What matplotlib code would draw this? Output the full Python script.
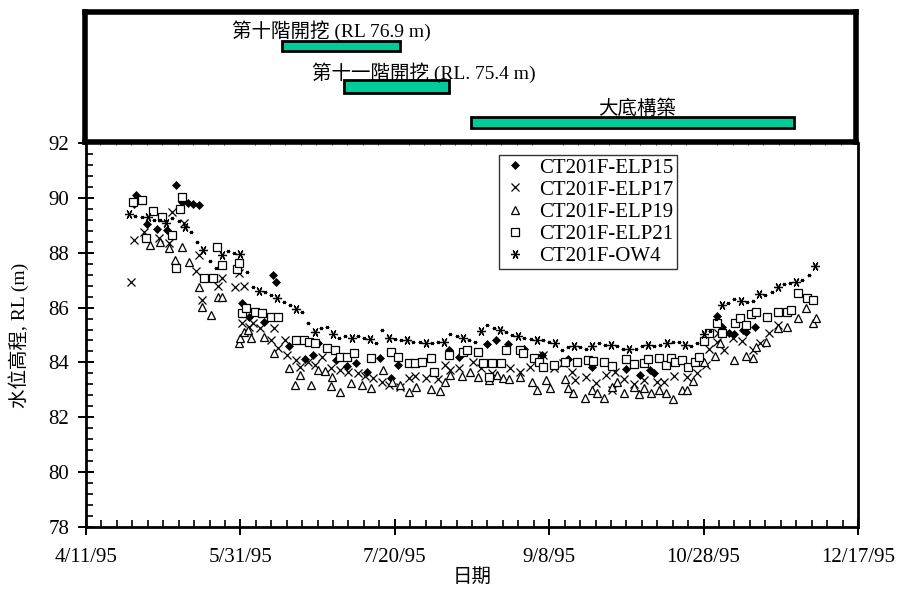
import matplotlib
matplotlib.use("Agg")
import matplotlib.pyplot as plt
import matplotlib.dates as mdates
from matplotlib.ticker import FixedLocator, MultipleLocator
import numpy as np
import pandas as pd

plt.rcParams['font.family'] = ['Liberation Serif', 'Noto Sans CJK TC']

# ---------------------------------------------------------------- data
START = pd.Timestamp('1995-04-11')
END = pd.Timestamp('1995-12-17')

tick_labels = ['4/11/95', '5/31/95', '7/20/95', '9/8/95', '10/28/95', '12/17/95']
y_ticks = [78, 80, 82, 84, 86, 88, 90, 92]

# days after 4/11/95, groundwater level RL (m)
elp15_day = [15.4, 16.3, 19.7, 23.0, 26.3, 29.2, 31.1, 33.0, 34.7, 36.5, 50.4, 52.9,
             57.6, 60.4, 61.4, 65.8, 70.8, 73.4, 75.2, 81.0, 84.6, 87.5, 91.0, 95.2,
             98.7, 101.1, 117.6, 120.8, 129.7, 132.8, 136.8, 142.0, 147.7, 155.1,
             156.2, 163.8, 174.9, 179.5, 182.6, 183.9, 204.5, 206.0, 208.3, 210.0,
             212.7, 213.7, 216.5]
elp15_rl = [89.78, 90.10, 89.05, 88.86, 88.83, 90.48, 89.85, 89.81, 89.78, 89.74,
            86.15, 85.66, 85.49, 87.19, 86.93, 84.60, 84.12, 84.27, 84.70, 84.09,
            83.87, 83.97, 83.66, 84.16, 83.42, 83.91, 84.45, 84.19, 84.66, 84.82,
            84.66, 84.48, 84.27, 84.03, 84.11, 83.82, 83.75, 83.54, 83.72, 83.60,
            85.70, 85.28, 85.08, 85.04, 85.18, 85.10, 85.30]

elp17_day = [14.7, 15.4, 18.9, 23.5, 27.0, 28.0, 31.7, 35.5, 36.5, 37.7, 42.9, 44.1,
             48.2, 49.4, 50.5, 51.1, 52.9, 54.1, 56.5, 60.0, 61.0, 62.1, 64.6, 65.2,
             68.1, 69.3, 71.9, 74.1, 76.3, 79.5, 82.2, 84.9, 88.1, 90.4, 92.8, 95.8,
             98.0, 101.6, 104.5, 106.7, 110.0, 113.9, 116.3, 118.0, 120.8, 125.2,
             128.0, 131.5, 137.4, 140.4, 143.9, 148.0, 151.5, 154.4, 157.4, 158.4,
             162.0, 165.0, 168.4, 170.3, 171.4, 174.1, 177.4, 180.6, 185.0, 187.1,
             190.4, 194.7, 198.0, 200.7, 201.9, 204.2, 204.8, 206.7, 209.5, 212.4,
             215.9, 218.3, 221.3, 224.2]
elp17_rl = [86.94, 88.46, 88.77, 88.53, 88.34, 89.50, 89.07, 87.34, 87.92, 86.28,
            86.79, 87.09, 86.76, 87.25, 85.43, 86.79, 85.30, 85.43, 85.24, 84.82,
            85.24, 84.51, 84.82, 84.27, 84.09, 83.85, 84.00, 83.90, 84.21, 83.80,
            83.72, 83.65, 83.60, 83.50, 83.42, 83.30, 83.18, 83.12, 83.42, 83.50,
            83.45, 83.38, 83.91, 83.72, 83.79, 84.03, 83.79, 83.60, 83.79, 83.66,
            83.85, 84.27, 83.79, 83.97, 83.66, 83.36, 83.48, 83.26, 83.54, 83.00,
            83.66, 83.40, 83.20, 83.35, 83.30, 83.30, 83.50, 83.48, 83.60, 83.91,
            84.48, 84.76, 85.08, 84.45, 84.88, 84.79, 84.45, 84.70, 85.06, 85.37]

elp19_day = [20.6, 24.1, 27.0, 28.9, 31.1, 33.5, 36.5, 37.7, 40.6, 42.9, 44.1, 49.4,
             50.0, 51.1, 52.3, 53.4, 57.6, 61.0, 65.8, 67.6, 69.3, 72.8, 75.2, 77.4,
             79.3, 79.8, 82.2, 85.7, 89.3, 92.2, 96.3, 99.1, 101.6, 104.5, 106.9,
             111.6, 114.5, 116.3, 118.0, 121.6, 124.5, 126.8, 130.4, 133.2, 135.0,
             137.1, 140.4, 144.4, 146.2, 149.1, 150.2, 155.0, 156.2, 157.8, 161.5,
             163.8, 165.4, 167.9, 170.3, 171.9, 174.3, 177.4, 179.0, 180.8, 183.1,
             185.5, 187.8, 190.2, 193.1, 194.7, 196.6, 200.2, 203.7, 205.4, 210.0,
             213.7, 215.9, 217.1, 220.1, 224.2, 227.1, 230.6, 233.0, 235.3, 236.5]
elp19_rl = [88.28, 88.40, 88.16, 87.73, 88.22, 87.67, 86.76, 86.03, 85.73, 86.37,
            86.40, 84.70, 84.90, 85.12, 85.18, 84.88, 84.94, 84.33, 83.79, 83.18,
            83.54, 83.18, 83.72, 83.70, 83.14, 83.48, 82.93, 83.24, 83.18, 83.06,
            83.72, 83.30, 83.18, 82.93, 83.09, 83.02, 82.97, 83.30, 83.54, 83.50,
            83.66, 83.48, 83.36, 83.54, 83.42, 83.40, 83.46, 83.30, 83.00, 83.36,
            83.06, 83.38, 83.06, 82.90, 82.69, 83.00, 82.87, 82.69, 83.12, 83.30,
            82.90, 83.12, 82.85, 83.06, 82.87, 83.00, 82.87, 82.65, 83.00, 83.00,
            83.33, 84.03, 84.24, 84.70, 84.09, 84.24, 84.15, 84.58, 84.76, 85.24,
            85.30, 85.61, 85.97, 85.43, 85.61]

elp21_day = [15.1, 18.2, 19.4, 21.8, 24.7, 27.7, 29.2, 30.4, 31.1, 38.2, 41.1, 42.3,
             44.1, 48.8, 49.4, 50.5, 51.7, 54.6, 57.0, 60.0, 62.1, 68.1, 70.5, 72.2,
             74.1, 78.1, 80.5, 82.2, 84.4, 86.9, 92.2, 98.7, 101.1, 104.5, 106.7,
             108.7, 111.6, 112.7, 117.5, 122.1, 123.3, 126.8, 128.5, 130.4, 131.5,
             134.4, 136.1, 140.4, 141.5, 145.1, 146.8, 148.0, 151.5, 155.0, 159.1,
             162.6, 164.3, 167.9, 170.3, 174.9, 177.4, 180.8, 182.0, 185.5, 187.8,
             189.6, 190.7, 193.1, 194.9, 197.2, 198.4, 200.2, 201.9, 204.2, 206.0,
             210.1, 211.9, 213.7, 215.4, 217.1, 220.6, 224.2, 227.1, 228.3, 230.6,
             233.5, 235.4]
elp21_rl = [89.86, 89.94, 88.53, 89.53, 89.29, 88.65, 87.43, 89.58, 90.04, 87.07,
            87.07, 88.22, 87.55, 87.39, 87.61, 85.79, 85.97, 85.85, 85.79, 85.67,
            85.65, 84.82, 84.82, 84.76, 84.70, 84.51, 84.45, 84.21, 84.20, 84.33,
            84.15, 84.39, 84.21, 83.97, 83.97, 84.03, 84.15, 83.66, 84.27, 84.39,
            84.45, 84.39, 83.97, 83.46, 83.97, 83.97, 84.45, 84.45, 84.33, 84.15,
            84.03, 83.85, 83.91, 84.03, 84.03, 84.09, 84.07, 84.00, 83.87, 84.11,
            83.94, 83.97, 84.11, 84.15, 83.91, 84.15, 84.03, 84.09, 83.85, 84.00,
            84.21, 84.78, 85.08, 85.43, 85.06, 85.45, 85.61, 85.37, 85.77, 85.85,
            85.67, 85.85, 85.85, 85.91, 86.54, 86.34, 86.28]

# observation well OW4, read every second day from 4/25/95
ow4_first = '1995-04-25'
ow4_rl = [89.40, 89.35, 89.30, 89.30, 89.20, 89.20, 89.10, 89.25, 89.15, 88.95, 88.75, 88.40,
          88.10, 87.70, 87.45, 87.90, 88.05, 88.00, 87.95, 87.30, 86.75, 86.60, 86.55,
          86.45, 86.35, 86.20, 86.10, 85.95, 85.85, 85.45, 85.10, 85.25, 85.30, 85.05,
          84.90, 84.95, 84.90, 84.95, 84.90, 84.85, 84.70, 85.20, 84.90, 84.85, 84.80,
          84.80, 84.75, 84.75, 84.70, 84.70, 84.75, 84.75, 85.05, 84.95, 84.90, 84.80,
          84.75, 85.15, 85.35, 85.25, 85.20, 85.10, 85.00, 84.95, 84.90, 84.85, 84.80,
          84.80, 84.75, 84.70, 84.45, 84.55, 84.60, 84.55, 84.50, 84.60, 84.70, 84.65,
          84.65, 84.60, 84.50, 84.50, 84.50, 84.60, 84.65, 84.60, 84.65, 84.70, 84.75,
          84.75, 84.65, 84.60, 84.70, 85.05, 85.15, 85.60, 86.10, 86.15, 86.30, 86.25,
          86.20, 86.25, 86.50, 86.45, 86.55, 86.75, 86.85, 86.90, 86.95, 87.00, 87.20, 87.50]

# construction stages
stage_labels = ['第十階開挖 (RL 76.9 m)', '第十一階開挖 (RL. 75.4 m)', '大底構築']
stage_start = ['1995-06-14', '1995-07-04', '1995-08-14']
stage_end = ['1995-07-22', '1995-08-07', '1995-11-27']
stage_label_at = ['1995-06-30', '1995-07-30', '1995-10-07']


def days_to_dates(days):
    return START + pd.to_timedelta(np.asarray(days, dtype=float), unit='D')


# ---------------------------------------------------------------- figure
fig = plt.figure(figsize=(8.99, 5.99), dpi=100)
ax = fig.add_axes([86 / 899, 72 / 599, 772 / 899, 384 / 599])
top = fig.add_axes([85 / 899, 457 / 599, 771 / 899, 130 / 599], sharex=ax)

mk = dict(ls='none', color='black')
ax.plot(days_to_dates(elp15_day), elp15_rl, marker='D', ms=4.3, mfc='black',
        mew=0.5, label='CT201F-ELP15', **mk)
ax.plot(days_to_dates(elp17_day), elp17_rl, marker='x', ms=5.5, mew=0.9,
        label='CT201F-ELP17', **mk)
ax.plot(days_to_dates(elp19_day), elp19_rl, marker='^', ms=5.3, mfc='white',
        mew=0.9, label='CT201F-ELP19', **mk)
ax.plot(days_to_dates(elp21_day), elp21_rl, marker='s', ms=6, mfc='white',
        mew=0.9, label='CT201F-ELP21', **mk)

ow4_dates = pd.date_range(ow4_first, periods=len(ow4_rl), freq='2D')
asterisk = (6, 2, 90)
ax.plot(ow4_dates, ow4_rl, marker=asterisk, ms=2.6, mew=0.6, **mk)
ax.plot(ow4_dates, ow4_rl, marker=asterisk, ms=6.5, mew=0.9, markevery=3,
        label='CT201F-OW4', **mk)

tick_dates = pd.to_datetime(tick_labels, format='%m/%d/%y')
ax.set_xlim(START, END)
ax.xaxis.set_major_locator(FixedLocator(mdates.date2num(tick_dates)))
ax.set_xticklabels(tick_labels)
ax.xaxis.set_minor_locator(FixedLocator(mdates.date2num(START) + np.arange(0, 251, 5)))

ax.set_ylim(78, 92)
ax.set_yticks(y_ticks)
ax.yaxis.set_minor_locator(MultipleLocator(0.4))

ax.tick_params(axis='both', which='major', direction='inout', length=12, width=1.4,
               labelsize=15, pad=6)
ax.tick_params(axis='both', which='minor', direction='in', length=5, width=1.2)
ax.tick_params(axis='x', which='major', pad=9)
for s in ['left', 'right', 'bottom']:
    ax.spines[s].set_linewidth(2)
ax.spines['top'].set_visible(False)

ax.set_xlabel('日期', fontsize=14, labelpad=1)
ax.set_ylabel('水位高程, RL (m)', fontsize=14, labelpad=14)

leg = ax.legend(loc='upper left', bbox_to_anchor=(413 / 772, 1 - 12 / 384),
                fontsize=15, frameon=True, fancybox=False, edgecolor='black',
                handlelength=1.2, handletextpad=0.6, labelspacing=0.12,
                borderpad=0.15, borderaxespad=0)
leg.get_frame().set_linewidth(1.0)

# ---------------------------------------------------------------- stages panel
top.set_ylim(0, 3)
bar_y = [2.21, 1.27, 0.45]
bar_h = [0.24, 0.30, 0.26]
label_y = [2.58, 1.60, 0.77]
for lab, s, e, yb, hb, yl, xl in zip(stage_labels, stage_start, stage_end,
                                     bar_y, bar_h, label_y, stage_label_at):
    s_num = mdates.date2num(pd.Timestamp(s))
    e_num = mdates.date2num(pd.Timestamp(e))
    top.barh(yb, e_num - s_num, left=s_num, height=hb, color='#00cc99',
             edgecolor='black', linewidth=2)
    top.text(mdates.date2num(pd.Timestamp(xl)), yl, lab, fontsize=14,
             ha='center', va='center')
top.tick_params(left=False, bottom=False, labelleft=False, labelbottom=False)
for s in top.spines.values():
    s.set_linewidth(4)

fig.savefig('out.png', dpi=100)
